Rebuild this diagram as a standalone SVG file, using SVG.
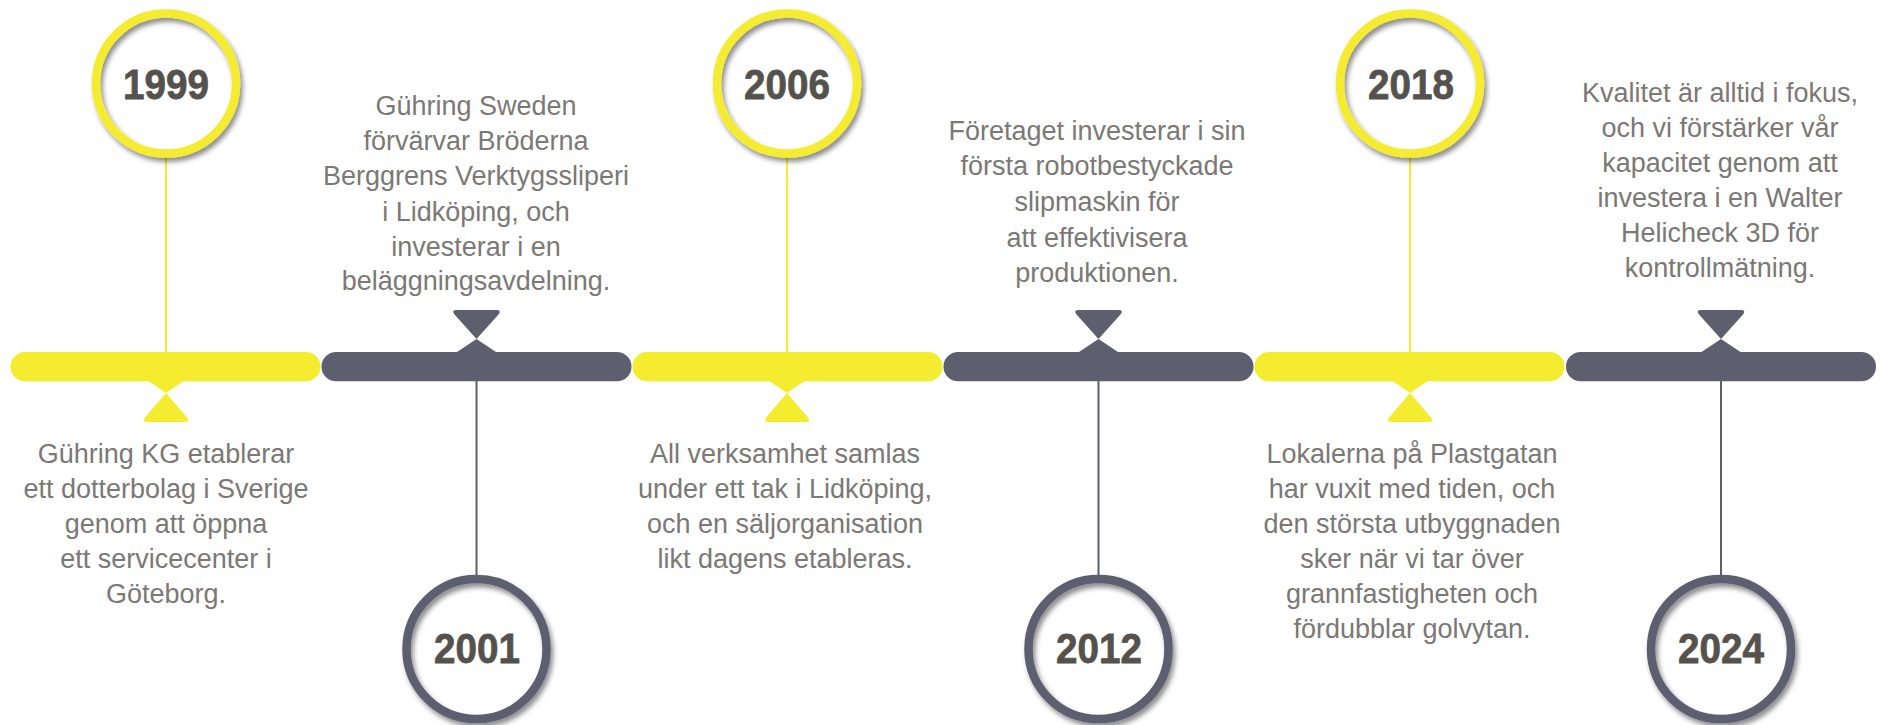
<svg xmlns="http://www.w3.org/2000/svg" width="1883" height="725" viewBox="0 0 1883 725">
<style>
.yb{fill:#f5ec30}
.gb{fill:#5d5f6f}
.yl{stroke:#f5ec30;stroke-width:2;fill:none}
.gl{stroke:#5d5f6f;stroke-width:2;fill:none}
.ring-y{fill:none;stroke:#f5ec30;stroke-width:8.5}
.ring-g{fill:none;stroke:#5d5f6f;stroke-width:8.5}
.disc{fill:#ffffff}
.year{font-family:"Liberation Sans",Arial,sans-serif;font-weight:bold;font-size:43px;fill:#55524d;stroke:#55524d;stroke-width:0.8;text-anchor:middle}
.desc{font-family:"Liberation Sans",Arial,sans-serif;font-size:27px;fill:#7b7875;text-anchor:middle}
</style>
<defs>
<filter id="sh" x="-20%" y="-20%" width="140%" height="140%">
<feDropShadow dx="2.5" dy="4" stdDeviation="2.5" flood-color="#000" flood-opacity="0.45"/>
</filter>
<g id="ymark">
<path d="M -22,378 L 22,378 L 0,393 Z"/>
<path d="M 0,393 L 21,417.5 Q 24,422 19,422 L -19,422 Q -24,422 -21,417.5 Z"/>
</g>
<g id="gmark">
<path d="M -20,310 L 20,310 Q 25.5,310 22,314.5 L 0,339 L -22,314.5 Q -25.5,310 -20,310 Z"/>
<path d="M 0,339 L 24,355 L -24,355 Z"/>
</g>
</defs>
<rect width="1883" height="725" fill="#ffffff"/>

<g id="connectors">
<line class="yl" x1="166" y1="157" x2="166" y2="353"/>
<line class="gl" x1="476.5" y1="380" x2="476.5" y2="576"/>
<line class="yl" x1="787" y1="157" x2="787" y2="353"/>
<line class="gl" x1="1098.5" y1="380" x2="1098.5" y2="576"/>
<line class="yl" x1="1410" y1="157" x2="1410" y2="353"/>
<line class="gl" x1="1721" y1="380" x2="1721" y2="576"/>
</g>

<g id="timeline">
<rect class="yb" x="10.5" y="352" width="310" height="29.3" rx="14.65"/>
<rect class="gb" x="321.5" y="352" width="310" height="29.3" rx="14.65"/>
<rect class="yb" x="632.5" y="352" width="310" height="29.3" rx="14.65"/>
<rect class="gb" x="943.5" y="352" width="310" height="29.3" rx="14.65"/>
<rect class="yb" x="1254.5" y="352" width="310" height="29.3" rx="14.65"/>
<rect class="gb" x="1566" y="352" width="310" height="29.3" rx="14.65"/>
<use href="#ymark" class="yb" transform="translate(166,0)"/>
<use href="#gmark" class="gb" transform="translate(476.5,0)"/>
<use href="#ymark" class="yb" transform="translate(787,0)"/>
<use href="#gmark" class="gb" transform="translate(1098.5,0)"/>
<use href="#ymark" class="yb" transform="translate(1410,0)"/>
<use href="#gmark" class="gb" transform="translate(1721,0)"/>
</g>

<g id="node-1999">
<circle class="disc" cx="166" cy="83.5" r="70"/>
<circle class="ring-y" cx="166" cy="83.5" r="70" filter="url(#sh)"/>
<text class="year" x="166" y="99" textLength="86" lengthAdjust="spacingAndGlyphs">1999</text>
<text class="desc" x="166" y="463">Gühring KG etablerar</text>
<text class="desc" x="166" y="498">ett dotterbolag i Sverige</text>
<text class="desc" x="166" y="533">genom att öppna</text>
<text class="desc" x="166" y="568">ett servicecenter i</text>
<text class="desc" x="166" y="603">Göteborg.</text>
</g>

<g id="node-2001">
<circle class="disc" cx="476.5" cy="649" r="70"/>
<circle class="ring-g" cx="476.5" cy="649" r="70" filter="url(#sh)"/>
<text class="year" x="477" y="663" textLength="86" lengthAdjust="spacingAndGlyphs">2001</text>
<text class="desc" x="476" y="115">Gühring Sweden</text>
<text class="desc" x="476" y="150">förvärvar Bröderna</text>
<text class="desc" x="476" y="185">Berggrens Verktygssliperi</text>
<text class="desc" x="476" y="221">i Lidköping, och</text>
<text class="desc" x="476" y="256">investerar i en</text>
<text class="desc" x="476" y="290">beläggningsavdelning.</text>
</g>

<g id="node-2006">
<circle class="disc" cx="787" cy="83.5" r="70"/>
<circle class="ring-y" cx="787" cy="83.5" r="70" filter="url(#sh)"/>
<text class="year" x="787" y="99" textLength="86" lengthAdjust="spacingAndGlyphs">2006</text>
<text class="desc" x="785" y="463">All verksamhet samlas</text>
<text class="desc" x="785" y="498">under ett tak i Lidköping,</text>
<text class="desc" x="785" y="533">och en säljorganisation</text>
<text class="desc" x="785" y="568">likt dagens etableras.</text>
</g>

<g id="node-2012">
<circle class="disc" cx="1098.5" cy="649" r="70"/>
<circle class="ring-g" cx="1098.5" cy="649" r="70" filter="url(#sh)"/>
<text class="year" x="1099" y="663" textLength="86" lengthAdjust="spacingAndGlyphs">2012</text>
<text class="desc" x="1097" y="140">Företaget investerar i sin</text>
<text class="desc" x="1097" y="175">första robotbestyckade</text>
<text class="desc" x="1097" y="211">slipmaskin för</text>
<text class="desc" x="1097" y="247">att effektivisera</text>
<text class="desc" x="1097" y="282">produktionen.</text>
</g>

<g id="node-2018">
<circle class="disc" cx="1410" cy="83.5" r="70"/>
<circle class="ring-y" cx="1410" cy="83.5" r="70" filter="url(#sh)"/>
<text class="year" x="1411" y="99" textLength="86" lengthAdjust="spacingAndGlyphs">2018</text>
<text class="desc" x="1412" y="463">Lokalerna på Plastgatan</text>
<text class="desc" x="1412" y="498">har vuxit med tiden, och</text>
<text class="desc" x="1412" y="533">den största utbyggnaden</text>
<text class="desc" x="1412" y="568">sker när vi tar över</text>
<text class="desc" x="1412" y="603">grannfastigheten och</text>
<text class="desc" x="1412" y="638">fördubblar golvytan.</text>
</g>

<g id="node-2024">
<circle class="disc" cx="1721" cy="649" r="70"/>
<circle class="ring-g" cx="1721" cy="649" r="70" filter="url(#sh)"/>
<text class="year" x="1721" y="663" textLength="86" lengthAdjust="spacingAndGlyphs">2024</text>
<text class="desc" x="1720" y="102">Kvalitet är alltid i fokus,</text>
<text class="desc" x="1720" y="137">och vi förstärker vår</text>
<text class="desc" x="1720" y="172">kapacitet genom att</text>
<text class="desc" x="1720" y="207">investera i en Walter</text>
<text class="desc" x="1720" y="242">Helicheck 3D för</text>
<text class="desc" x="1720" y="277">kontrollmätning.</text>
</g>
</svg>
